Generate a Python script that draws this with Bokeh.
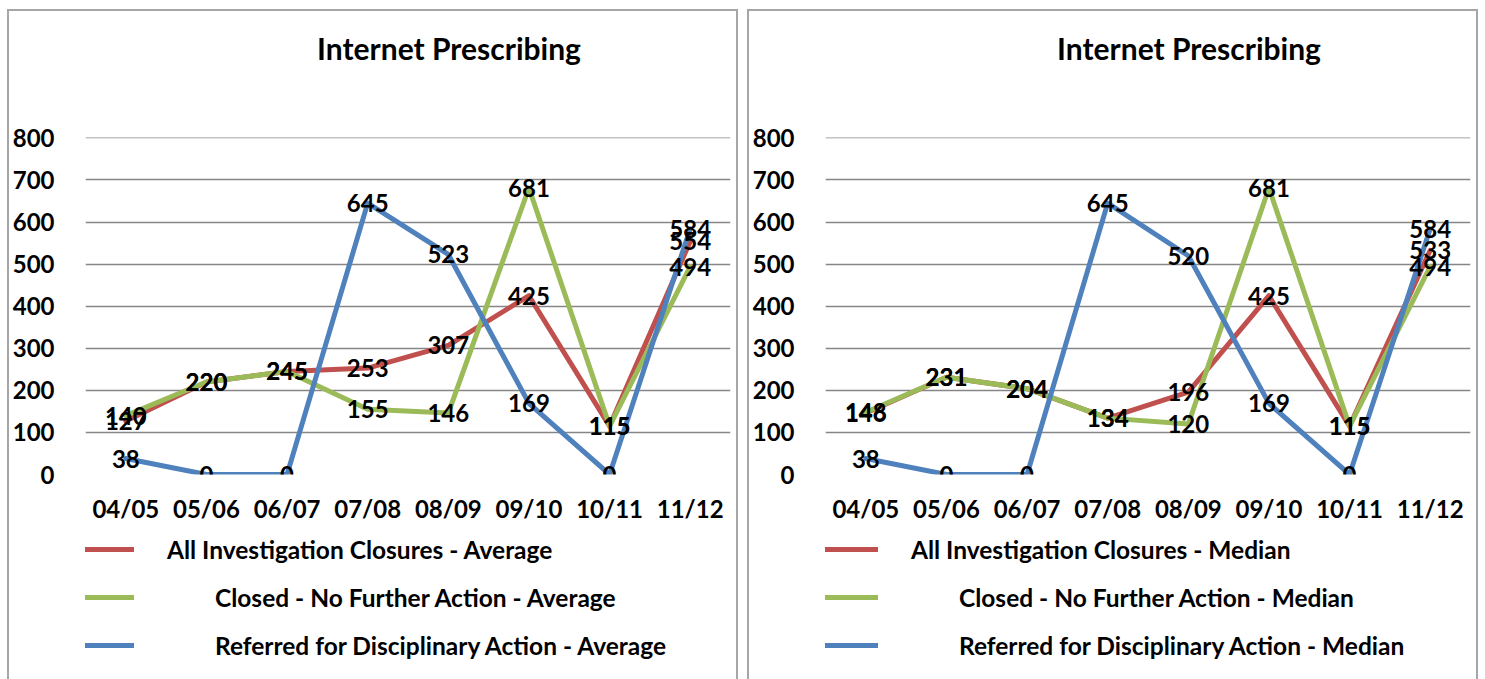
from bokeh.plotting import figure
from bokeh.models import (FactorRange, Range1d, ColumnDataSource, Legend, LegendItem,
                          SingleIntervalTicker, Label)
from bokeh.layouts import row, column
from bokeh.core.properties import value
from bokeh.embed import file_html
from bokeh.resources import INLINE

categories = ["04/05", "05/06", "06/07", "07/08", "08/09", "09/10", "10/11", "11/12"]

avg_all = [127, 220, 245, 253, 307, 425, 115, 554]
avg_nfa = [140, 220, 245, 155, 146, 681, 115, 494]
avg_ref = [38, 0, 0, 645, 523, 169, 0, 584]

med_all = [146, 231, 204, 134, 196, 425, 115, 533]
med_nfa = [148, 231, 204, 134, 120, 681, 115, 494]
med_ref = [38, 0, 0, 645, 520, 169, 0, 584]

title_text = "Internet Prescribing"
series_names = ["All Investigation Closures", "Closed - No Further Action",
                "Referred for Disciplinary Action"]
colors = ["#C0504D", "#9BBB59", "#4F81BD"]

FONT = "Lato"
BORDER = "2px solid #a6a6a6"
PANEL_W = 731


def blank_fig(height, styles, x_range=None, y_range=None):
    f = figure(x_range=x_range or Range1d(0, 1), y_range=y_range or Range1d(0, 1),
               width=PANEL_W, height=height, output_backend="svg",
               toolbar_location=None, x_axis_type=None, y_axis_type=None,
               min_border_left=0, min_border_right=0, min_border_top=0,
               min_border_bottom=0)
    f.styles = styles
    f.outline_line_color = None
    return f


def make_panel(series, stat, legend_x):
    # title strip
    tp = blank_fig(106, {"border-top": BORDER, "border-left": BORDER,
                         "border-right": BORDER, "box-sizing": "border-box"})
    tp.add_layout(Label(x=363.5, y=70, x_units="screen", y_units="screen",
                        text=title_text, text_align="center", text_baseline="middle",
                        text_font=FONT, text_font_size="30px",
                        text_font_style="bold", text_color="black"))

    # chart
    p = figure(x_range=FactorRange(*categories, range_padding=0),
               y_range=Range1d(0, 801),
               width=PANEL_W, height=419, output_backend="svg", toolbar_location=None,
               min_border_left=68, min_border_right=10, min_border_top=22,
               min_border_bottom=60)
    p.styles = {"border-left": BORDER, "border-right": BORDER,
                "box-sizing": "border-box"}
    p.outline_line_color = None
    p.xgrid.grid_line_color = None
    p.ygrid.grid_line_color = "#868686"
    p.ygrid.grid_line_width = 1.5
    p.yaxis.ticker = SingleIntervalTicker(interval=100)

    for ax in (p.xaxis, p.yaxis):
        ax.axis_line_color = None
        ax.major_tick_line_color = None
        ax.minor_tick_line_color = None
        ax.major_label_text_font = FONT
        ax.major_label_text_font_size = "24px"
        ax.major_label_text_font_style = "bold"
        ax.major_label_text_color = "black"
    p.yaxis.major_label_standoff = 25
    p.xaxis.major_label_standoff = 13

    for vals, col in zip(series, colors):
        src = ColumnDataSource(dict(x=categories, y=vals))
        p.line("x", "y", source=src, line_color=col, line_width=5,
               line_join="round", line_cap="round")
    for vals in series:
        src = ColumnDataSource(dict(x=categories, y=vals, t=[str(v) for v in vals]))
        p.text("x", "y", text="t", source=src, text_font=value(FONT),
               text_font_size="24px", text_font_style="bold", text_color="black",
               text_align="center", text_baseline="middle")

    # legend strip: same series, shown over a value window that holds none of them,
    # so only the legend entries are visible
    lp = blank_fig(145, {"border-left": BORDER, "border-right": BORDER,
                         "box-sizing": "border-box"},
                   x_range=FactorRange(*categories, range_padding=0),
                   y_range=Range1d(-2, -1))
    standoffs = [33, 81, 81]
    locs = [115, 67, 19]
    for vals, col, name, so, ly in zip(series, colors, series_names, standoffs, locs):
        src = ColumnDataSource(dict(x=categories, y=vals))
        r = lp.line("x", "y", source=src, line_color=col, line_width=5,
                    line_cap="round")
        lg = Legend(items=[LegendItem(label=f"{name} - {stat}", renderers=[r])],
                    location=(legend_x, ly), padding=0, margin=0, glyph_width=57,
                    glyph_height=30, label_height=30, label_standoff=so,
                    label_text_font=FONT, label_text_font_size="24.5px",
                    label_text_font_style="bold", label_text_color="black",
                    border_line_color=None, background_fill_alpha=0)
        lp.add_layout(lg, "center")
    return column(tp, p, lp, spacing=0)


left = make_panel([avg_all, avg_nfa, avg_ref], "Average", -8)
right = make_panel([med_all, med_nfa, med_ref], "Median", -4)
layout = row(left, right, spacing=9, margin=(9, 0, 0, 7))

open("out.html", "w").write(file_html(layout, INLINE))
